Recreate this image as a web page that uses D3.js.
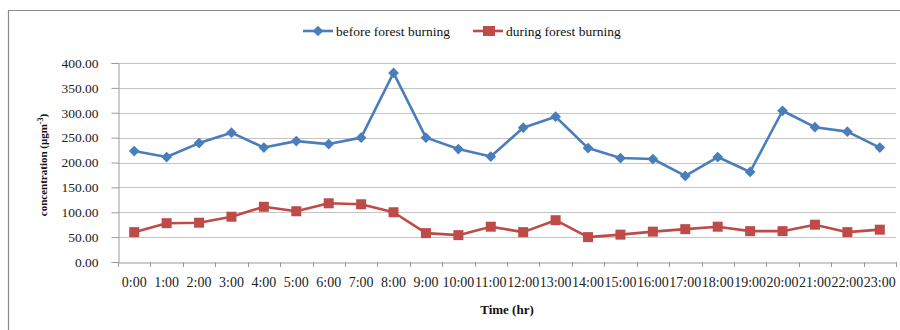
<!DOCTYPE html>
<html><head><meta charset="utf-8">
<script src="https://cdn.jsdelivr.net/npm/d3@7"></script>
<style>body{margin:0;background:#fff}svg{display:block}text{font-family:"Liberation Serif","Times New Roman",serif}</style>
</head><body><svg id="c" width="900" height="330"></svg>
<script>
const hours = ["0:00","1:00","2:00","3:00","4:00","5:00","6:00","7:00","8:00","9:00","10:00","11:00","12:00","13:00","14:00","15:00","16:00","17:00","18:00","19:00","20:00","21:00","22:00","23:00"];
const before = [223,211,239,260,230,243,237,250,380,250,227,212,270,292,229,209,207,173,211,181,304,271,262,230];
const during = [60,78,79,91,111,102,118,116,100,58,54,71,60,84,50,55,61,66,71,62,62,75,60,65];
const yTicks = [0,50,100,150,200,250,300,350,400];
const seriesNames = ["before forest burning","during forest burning"];
const colors = ["#4a7ebb","#be4b48"];

const svg = d3.select("#c");
const L = 118, R = 896, T = 63, B = 262;
const x = d3.scaleBand().domain(hours).range([L, R]);
const y = d3.scaleLinear().domain([0, 400]).range([B, T]);

svg.append("path").attr("d","M8.5,330 V10.5 H900").attr("fill","none").attr("stroke","#8c8c8c").attr("stroke-width",1.2);

svg.append("g").selectAll("line").data(yTicks.filter(d=>d>0)).join("line")
  .attr("x1",L).attr("x2",R).attr("y1",d=>Math.round(y(d))+0.5).attr("y2",d=>Math.round(y(d))+0.5)
  .attr("stroke","#c4c4c4").attr("stroke-width",1);

const yAxis = svg.append("g").attr("transform",`translate(${L+0.5},0)`)
  .call(d3.axisLeft(y).tickValues(yTicks).tickFormat(d3.format(".2f")).tickSize(7).tickPadding(13));
yAxis.select(".domain").attr("stroke","#9a9a9a");
yAxis.selectAll(".tick line").attr("stroke","#9a9a9a");
yAxis.selectAll("text").attr("font-size",13.5).attr("fill","#222").attr("font-family","Liberation Serif");

const xAxis = svg.append("g").attr("transform",`translate(0,${B+0.5})`)
  .call(d3.axisBottom(x).tickSize(0).tickPadding(15));
xAxis.select(".domain").attr("stroke","#9a9a9a");
xAxis.selectAll("text").attr("font-size",14).attr("fill","#222").attr("font-family","Liberation Serif");
svg.append("g").selectAll("line").data(hours.concat(["__end"])).join("line")
  .attr("x1",(d,i)=>Math.round(L + i*x.step())+0.5).attr("x2",(d,i)=>Math.round(L + i*x.step())+0.5)
  .attr("y1",B).attr("y2",B+5).attr("stroke","#9a9a9a");

const cx = d => x(d) + x.bandwidth()/2;
const line = d3.line().x((d,i)=>cx(hours[i])).y(d=>y(d));

[before, during].forEach((vals, s) => {
  svg.append("path").datum(vals).attr("d", line).attr("fill","none")
    .attr("stroke", colors[s]).attr("stroke-width", 2.6).attr("stroke-linejoin","round");
});
svg.append("g").selectAll("path").data(before).join("path")
  .attr("transform",(d,i)=>`translate(${cx(hours[i])},${y(d)}) rotate(45)`)
  .attr("d","M-3.8,-3.8H3.8V3.8H-3.8Z").attr("fill",colors[0]);
svg.append("g").selectAll("rect").data(during).join("rect")
  .attr("x",(d,i)=>cx(hours[i])-5).attr("y",d=>y(d)-5).attr("width",10).attr("height",10).attr("fill",colors[1]);

const lg = [{x:303, name:seriesNames[0]},{x:473, name:seriesNames[1]}];
lg.forEach((l,s)=>{
  const g = svg.append("g");
  g.append("line").attr("x1",l.x).attr("x2",l.x+30).attr("y1",31).attr("y2",31).attr("stroke",colors[s]).attr("stroke-width",2.6);
  if(s===0) g.append("path").attr("transform",`translate(${l.x+15},31) rotate(45)`).attr("d","M-3.8,-3.8H3.8V3.8H-3.8Z").attr("fill",colors[0]);
  else g.append("rect").attr("x",l.x+10).attr("y",26).attr("width",12).attr("height",10).attr("fill",colors[1]);
  g.append("text").attr("x",l.x+33).attr("y",35.5).attr("font-size",13.5).attr("fill","#111").text(l.name);
});

svg.append("text").attr("x",507).attr("y",314).attr("text-anchor","middle").attr("font-size",13).attr("font-weight","bold").attr("fill","#111").text("Time (hr)");
const yt = svg.append("text").attr("transform","translate(47,165) rotate(-90)").attr("text-anchor","middle")
  .attr("font-size",11).attr("font-weight","bold").attr("fill","#111");
yt.append("tspan").text("concentration (μgm");
yt.append("tspan").attr("dy",-4).attr("font-size",8).text("-3");
yt.append("tspan").attr("dy",4).text(")");
</script></body></html>
